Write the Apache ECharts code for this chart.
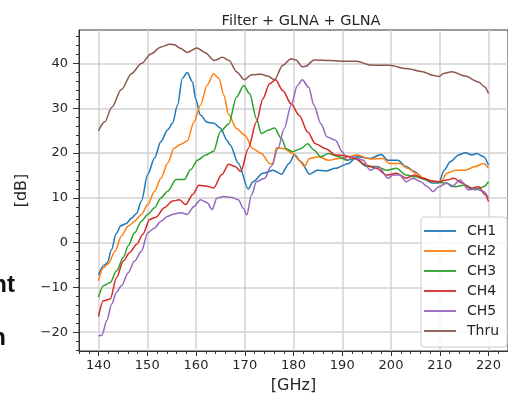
<!DOCTYPE html>
<html>
<head>
<meta charset="utf-8">
<script src="https://cdn.jsdelivr.net/npm/echarts@6/dist/echarts.min.js"></script>
<style>
  html, body { margin: 0; padding: 0; background: #fff; }
  #chart { width: 508px; height: 399px; }
</style>
</head>
<body>
<div id="chart"></div>
<script>
// [GHz, dB] pairs
var ch1 = [[140,-7.2],[141.2,-5.0],[141.8,-4.5],[142.7,-1.5],[143.6,2.0],[144.6,3.8],[145.6,4.2],[146.8,5.5],[147.8,6.5],[148.8,9.3],[150.1,15.2],[151.5,18.9],[152.8,22.6],[154.2,25.2],[155.2,26.7],[156.2,30.7],[157.2,36.7],[158.2,38.0],[159.3,35.9],[159.9,32.2],[160.9,28.5],[162.3,26.9],[163.6,26.7],[165.0,25.6],[166.4,22.8],[167.0,21.8],[168.7,17.7],[170.7,12.0],[171.7,13.6],[173.7,15.5],[175.8,16.2],[177.5,15.3],[179.1,17.7],[180.2,19.7],[181.5,18.1],[183.3,15.3],[184.9,16.2],[186.6,16.0],[188.6,16.6],[191.3,17.7],[193.0,19.2],[195.7,18.8],[198.0,19.7],[199.4,18.4],[201.4,18.4],[203.1,17.0],[204.8,15.9],[206.5,14.4],[208.5,13.3],[209.8,13.3],[210.9,16.2],[212.2,18.1],[213.9,19.6],[215.2,20.1],[216.6,19.6],[217.6,19.9],[219.0,19.2],[220,17.3]];
var ch2 = [[140,-8.5],[141,-5.6],[142,-4.7],[143.4,-1.9],[144.7,1.5],[146.1,3.7],[147.4,4.8],[148.8,6.3],[150.1,8.5],[151.5,11.5],[152.8,14.4],[154.2,17.8],[155.5,21.1],[156.9,22.0],[158.2,22.7],[159.6,27.0],[160.9,30.7],[162.3,35.2],[163.6,37.7],[164.7,36.7],[165.7,33.0],[166.7,28.6],[168.3,25.5],[170.0,24.0],[171.7,21.0],[173.4,19.9],[175.1,17.7],[175.8,17.5],[176.5,21.2],[178.1,21.0],[179.8,19.9],[181.2,18.4],[182.2,17.0],[183.3,18.8],[185.2,19.2],[187.2,18.4],[189.3,18.8],[191.3,19.2],[193,19.6],[195.7,18.7],[198.4,18.8],[199.7,17.7],[201.8,17.7],[203.4,16.6],[205.1,15.5],[206.8,14.4],[208.5,13.6],[210.2,13.6],[211.5,15.5],[213.2,16.2],[215.2,16.2],[217.3,17.0],[219,17.7],[220,16.6]];
var ch3 = [[140,-12.2],[141,-9.6],[142.4,-8.9],[143.7,-6.3],[145.1,-3.3],[146.1,-0.7],[147.4,2.2],[148.8,4.8],[150.1,6.3],[151.5,7.8],[152.8,10.0],[154.2,11.5],[155.9,14.1],[157.6,14.1],[158.9,16.3],[160.3,18.4],[162,19.6],[163.6,20.4],[165,24.8],[166.7,26.5],[168.3,32.5],[169.8,35.1],[171.0,33.3],[172.4,27.7],[173.4,24.4],[174.8,25.1],[176.1,25.6],[177.5,23.3],[178.5,21.0],[179.8,20.3],[181.5,21.0],[182.9,22.1],[184.2,20.7],[185.6,19.2],[187.2,19.9],[189.3,19.2],[191,18.4],[192.6,18.8],[195,17.0],[197,17.0],[199.1,16.2],[201.1,16.6],[203.1,15.1],[205.1,14.7],[207.2,14.0],[209.2,13.6],[211.2,13.3],[213.2,12.5],[215.2,12.9],[217.3,11.8],[219,12.5],[220,13.6]];
var ch4 = [[140,-16.5],[141,-13.0],[142.4,-12.6],[143.7,-7.8],[145.1,-4.1],[146.4,-2.2],[147.8,-0.4],[149.1,1.9],[150.5,5.2],[151.8,5.7],[153.5,7.8],[155.2,9.3],[156.6,9.6],[157.9,8.5],[159.3,10.7],[160.6,12.8],[162.3,12.6],[163.6,12.2],[165.3,15.2],[166.7,17.5],[168,17.0],[169.2,15.9],[170.7,21.0],[172.4,27.0],[173.7,32.1],[175.1,35.5],[176.3,36.4],[177.8,34.0],[179.5,31.0],[181.2,28.4],[182.9,24.7],[184.5,22.1],[186.6,21.0],[188.6,19.6],[190.6,19.4],[192.6,18.8],[195,17.3],[197,16.6],[199.1,15.1],[201.1,15.5],[203.1,14.4],[204.8,15.1],[206.5,14.4],[208.2,13.8],[209.8,13.6],[211.5,14.0],[212.9,14.4],[214.6,13.3],[216.3,12.1],[218,12.5],[219.3,10.7],[220,9.2]];
var ch5 = [[140,-20.8],[140.7,-20.7],[141.7,-17.4],[142.7,-13.7],[143.7,-11.1],[144.7,-9.6],[146.1,-6.7],[147.4,-4.1],[148.8,-1.9],[150.1,2.2],[151.5,3.3],[152.8,4.8],[154.2,5.9],[155.5,6.4],[156.9,6.7],[158.2,6.3],[159.6,8.1],[160.9,9.6],[162.3,8.9],[163.3,7.4],[164.3,10.0],[165.7,10.3],[167.3,10.1],[168.7,9.6],[169.7,7.7],[170.4,6.2],[171.4,10.7],[172.4,13.6],[174.1,14.4],[175.4,17.0],[176.8,21.0],[178.1,25.5],[179.5,30.7],[180.8,35.1],[181.8,36.4],[183.1,34.7],[184.2,30.7],[185.6,26.6],[186.9,23.6],[188.6,22.9],[190,20.3],[191,18.4],[192.3,19.2],[194.3,18.4],[195.7,16.2],[197.4,17.0],[199.4,14.4],[200.4,15.1],[201.8,15.1],[203.1,13.6],[204.5,14.4],[206.1,13.6],[207.5,12.5],[208.6,11.4],[209.8,12.5],[211.5,13.3],[212.5,12.5],[214.2,14.0],[215.9,11.8],[217.3,12.1],[219,11.4],[220,9.9]];
var thru = [[140,25.0],[141.3,27.0],[142.7,30.2],[144.7,34.2],[146.8,37.8],[148.8,40.0],[150.8,42.2],[152.8,43.7],[154.6,44.3],[155.6,44.2],[156.8,43.4],[158.2,42.5],[160.2,43.5],[161.8,42.5],[163.8,40.7],[165.4,41.4],[166.8,40.7],[168.3,38.2],[169.9,36.4],[171.4,37.5],[173.4,37.6],[174.7,37.2],[176.1,36.4],[177.8,39.6],[179.5,41.1],[180.5,40.8],[181.8,39.3],[182.5,39.4],[184.2,40.8],[187.6,40.7],[190.9,40.5],[193.0,40.5],[195.7,39.7],[199.7,39.6],[203.1,38.9],[206.5,38.2],[208.5,37.4],[209.8,37.1],[210.8,37.8],[212.5,38.2],[215.2,37.2],[218,35.9],[219.2,34.8],[220,33.3]];

var names = ['CH1', 'CH2', 'CH3', 'CH4', 'CH5', 'Thru'];
var seriesData = [ch1, ch2, ch3, ch4, ch5, thru];
var colors = ['#1f77b4', '#ff7f0e', '#2ca02c', '#d62728', '#9467bd', '#8c564b'];

var xTicks = [140, 150, 160, 170, 180, 190, 200, 210, 220];
var yTicks = [-20, -10, 0, 10, 20, 30, 40];

// minor tick positions, every 2
var xMinor = [];
for (var v = 136; v <= 224; v += 2) xMinor.push(v);
var yMinor = [];
for (var w = -24; w <= 46; w += 2) yMinor.push(w);

var font = '"DejaVu Sans", sans-serif';
var axisColor = '#333';
var txtColor = '#262626';

var series = seriesData.map(function (d, i) {
  return {
    name: names[i],
    type: 'line',
    data: d,
    symbol: 'none',
    smooth: 0.3,
    smoothMonotone: 'x',
    lineStyle: { width: 1.5, color: colors[i] },
    itemStyle: { color: colors[i] },
    z: 3
  };
});

var option = {
  backgroundColor: '#fff',
  animation: false,
  title: {
    text: 'Filter + GLNA + GLNA',
    left: 296,
    top: 9,
    textAlign: 'center',
    textStyle: { fontFamily: font, fontSize: 14.5, fontWeight: 'normal', color: txtColor }
  },
  grid: {
    left: 79, top: 30, width: 435, height: 322,
    show: true, borderColor: axisColor, borderWidth: 1, backgroundColor: 'transparent'
  },
  legend: {
    orient: 'vertical',
    left: 421,
    top: 217,
    data: names,
    icon: 'path://M0,0 L32,0 L32,1.8 L0,1.8 Z',
    symbolKeepAspect: true,
    itemWidth: 32,
    itemHeight: 14,
    itemGap: 6,
    padding: [7, 8, 9, 3],
    backgroundColor: 'rgba(255,255,255,0.85)',
    borderColor: '#cccccc',
    borderWidth: 1,
    borderRadius: 3,
    textStyle: { fontFamily: font, fontSize: 14, color: txtColor, padding: [0, 0, 0, 6] }
  },
  xAxis: [
    {
      type: 'value', min: 136, max: 224,
      name: '[GHz]', nameLocation: 'middle', nameGap: 27,
      nameTextStyle: { fontFamily: font, fontSize: 16, color: txtColor },
      axisLine: { show: true, onZero: false, lineStyle: { color: axisColor, width: 1 } },
      axisTick: { show: true, customValues: xTicks, length: 5, lineStyle: { color: axisColor } },
      axisLabel: { customValues: xTicks, fontFamily: font, fontSize: 13, color: txtColor, margin: 8 },
      splitLine: { show: true, lineStyle: { color: '#d2d2d2', width: 1.5 } }
    },
    {
      type: 'value', min: 136, max: 224, position: 'bottom',
      axisLine: { show: false, onZero: false },
      axisTick: { show: true, customValues: xMinor, length: 3, lineStyle: { color: axisColor } },
      axisLabel: { show: false },
      splitLine: { show: false }
    }
  ],
  yAxis: [
    {
      type: 'value', min: -24.2, max: 47.5,
      name: '[dB]', nameLocation: 'middle', nameGap: 42, nameRotate: 90,
      nameTextStyle: { fontFamily: font, fontSize: 16, color: txtColor },
      axisLine: { show: true, onZero: false, lineStyle: { color: axisColor, width: 1 } },
      axisTick: { show: true, customValues: yTicks, length: 6, lineStyle: { color: axisColor } },
      axisLabel: { customValues: yTicks, fontFamily: font, fontSize: 13, color: txtColor, margin: 11,
        formatter: function (v) { return v < 0 ? '\u2212' + Math.abs(v) : String(v); } },
      splitLine: { show: true, lineStyle: { color: '#d2d2d2', width: 1.5 } }
    },
    {
      type: 'value', min: -24.2, max: 47.5, position: 'left',
      axisLine: { show: false, onZero: false },
      axisTick: { show: true, customValues: yMinor, length: 3, lineStyle: { color: axisColor } },
      axisLabel: { show: false },
      splitLine: { show: false }
    }
  ],
  graphic: [
    { type: 'text', x: 15, y: 297, style: { text: 'nt', align: 'right', verticalAlign: 'bottom',
      font: 'bold 24px "Liberation Sans", sans-serif', fill: '#111' } },
    { type: 'text', x: 6, y: 350, style: { text: 'n', align: 'right', verticalAlign: 'bottom',
      font: 'bold 24px "Liberation Sans", sans-serif', fill: '#111' } }
  ],
  series: series
};

var chart = echarts.init(document.getElementById('chart'), null, { renderer: 'canvas' });
chart.setOption(option);
</script>
</body>
</html>
